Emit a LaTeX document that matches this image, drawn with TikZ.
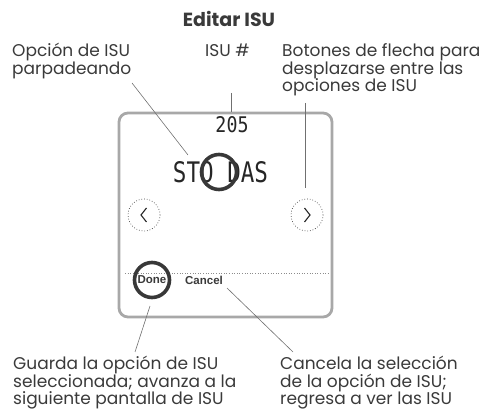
\documentclass[tikz,border=0pt]{standalone}
\usepackage{fontspec}
\setmainfont{Poppins}
\newfontfamily\lcdfont{DejaVu Sans Mono}
\newfontfamily\keyfont{Liberation Sans}
\usetikzlibrary{calc}
\definecolor{txtgray}{HTML}{3A3A3A}
\definecolor{framegray}{HTML}{A8A8A8}
\definecolor{ringgray}{HTML}{383838}
\definecolor{leadgray}{HTML}{707070}

\begin{document}
\begin{tikzpicture}[
        x=1pt, y=-1pt,
        callout/.style={font=\fontsize{17}{17.5}\selectfont, text=txtgray, align=left, inner sep=0pt, anchor=base west},
        lead/.style={draw=leadgray, line width=0.6pt},
        ring/.style={circle, draw=ringgray, line width=3.6pt, minimum size=35pt, inner sep=0pt},
        arrbtn/.style={circle, draw=black!75, dotted, line width=0.7pt, minimum size=32pt, inner sep=0pt},
        chev/.style={draw=black!85, line width=1.1pt},
        lcd/.style={text=black!85, inner sep=0pt},
        softkey/.style={font=\keyfont\bfseries\fontsize{11.5}{13}\selectfont, text=txtgray, inner sep=0pt}
      ]
        \useasboundingbox (0,0) rectangle (482,411);

        % title
        \node[font=\bfseries\fontsize{19}{21}\selectfont, text=txtgray] (title) at (229,19) {Editar ISU};

        % top callouts (anchored at the baseline of their last line)
        \node[callout] (lblblink) at (12,74.5) {Opción de ISU\\parpadeando};
        \node[callout] (lblnum) at (205,57) {ISU \#};
        \node[callout] (lblarrows) at (282,92) {Botones de flecha para\\desplazarse entre las\\opciones de ISU};

        % screen frame
        \node[draw=framegray, line width=2.8pt, rounded corners=9pt, minimum width=213pt, minimum height=204pt] (screen) at (225.5,215) {};

        % display texts
        \node[lcd] (num) at (232,125) {\resizebox{33pt}{16pt}{\lcdfont 205}};
        \node[lcd] (opt) at (220.5,172) {\resizebox{95pt}{21pt}{\lcdfont STO DAS}};
        \node[ring] (blinkring) at (219,172) {};

        % arrow buttons
        \node[arrbtn] (btnL) at (144,215) {};
        \node[arrbtn] (btnR) at (307,215) {};
        \draw[chev] ($(btnL)+(2.5,-7)$) -- ($(btnL)+(-3,0)$) -- ($(btnL)+(2.5,7)$);
        \draw[chev] ($(btnR)+(-2.5,-7)$) -- ($(btnR)+(3,0)$) -- ($(btnR)+(-2.5,7)$);

        % soft keys
        \draw[dotted, draw=black!45, line width=0.6pt] (125,273) -- (330,273);
        \node[softkey] (done) at (152,280) {Done};
        \node[ring] (donering) at (152,280) {};
        \node[softkey] (cancel) at (204,280) {Cancel};

        % bottom callouts
        \node[callout] (lblsave) at (13,405) {Guarda la opción de ISU\\seleccionada; avanza a la\\siguiente pantalla de ISU};
        \node[callout] (lblcancel) at (280,405) {Cancela la selección\\de la opción de ISU;\\regresa a ver las ISU};

        % leader lines
        \coordinate (blinkA) at (132,83);
        \coordinate (blinkB) at (188,155);
        \coordinate (numA) at (231,93);
        \coordinate (numB) at (231,112);
        \coordinate (arrA) at (305,103);
        \coordinate (arrB) at (305,188);
        \coordinate (saveA) at (150,306);
        \coordinate (saveB) at (135,352);
        \coordinate (cancelA) at (227,288);
        \coordinate (cancelB) at (293,352);
        \draw[lead] (blinkA) -- (blinkB);
        \draw[lead] (numA) -- (numB);
        \draw[lead] (arrA) -- (arrB);
        \draw[lead] (saveA) -- (saveB);
        \draw[lead] (cancelA) -- (cancelB);
    \end{tikzpicture}
\end{document}
